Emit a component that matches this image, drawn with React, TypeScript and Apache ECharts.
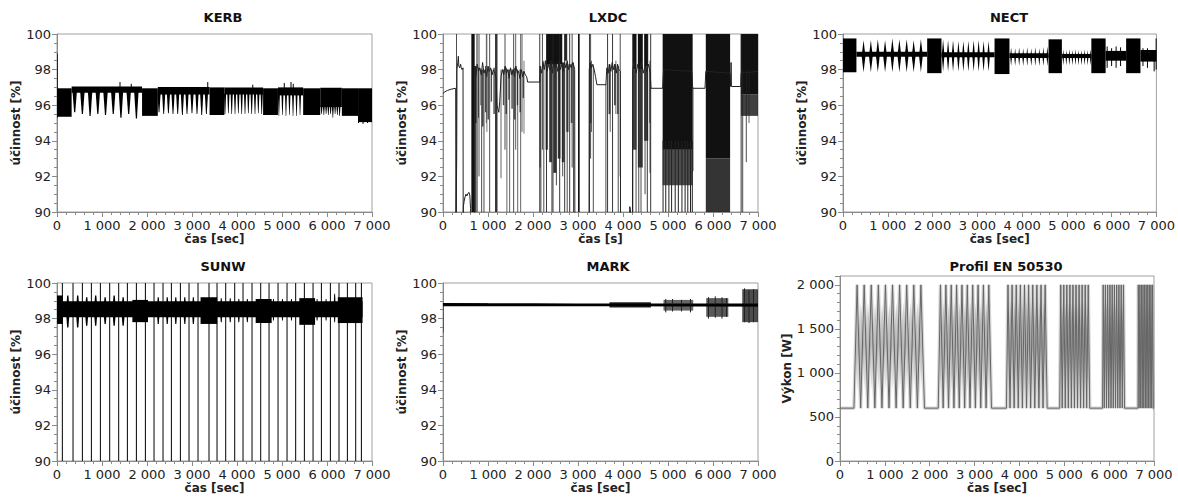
import React, { useEffect, useRef } from "react";
import * as echarts from "echarts";

const FONT = '"DejaVu Sans", Verdana, sans-serif';

// ---------- Profile EN 50530 ----------
const profBottom = 600;
const profTop = 2000;
const profPeaks1 = [386, 544, 702, 860, 1018, 1176, 1334, 1492, 1650, 1808];
const profPeaks2 = [2245, 2365, 2485, 2604, 2724, 2843, 2963, 3083, 3202, 3322];
const profPeaks3 = [3750, 3842, 3934, 4026, 4118, 4210, 4302, 4394, 4486, 4578];
const profPeaks4 = [4926, 4994, 5062, 5130, 5198, 5267, 5335, 5403, 5471, 5539];
const profPeaks5 = [5872, 5922, 5972, 6023, 6073, 6123, 6173, 6223, 6274, 6324];
const profPeaks6 = [6655, 6690, 6725, 6760, 6796, 6831, 6866, 6901, 6937, 6972];
const profRamps = [70, 50, 35, 23, 14, 7];
const profDwell = [10, 10, 10, 10, 10, 10];
const profShade = [0.35, 0.4, 0.5, 0.6, 0.7, 0.8];

// ---------- KERB ----------
const kerbBands = [
  [0, 325, 95.35, 96.95],
  [1890, 2240, 95.4, 96.95],
  [3390, 3720, 95.45, 97.0],
  [4580, 4910, 95.45, 96.95],
  [5470, 5850, 95.45, 96.95],
  [6330, 6690, 95.4, 96.95],
  [6690, 7000, 95.05, 96.95],
];
const kerbTopBands = [
  [325, 1890, 96.7, 97.05],
  [2240, 3390, 96.6, 97.02],
  [3720, 4580, 96.6, 97.0],
  [4910, 5470, 96.55, 97.0],
  [5850, 6330, 95.9, 96.98],
];
const kerbFingers = [
  [393, 50, 96.8, 95.6], [564, 50, 96.8, 95.5], [735, 50, 96.8, 95.4], [907, 50, 96.8, 95.5],
  [1078, 50, 96.8, 95.45], [1250, 50, 96.8, 95.5], [1421, 50, 96.8, 95.3], [1593, 50, 96.8, 95.5],
  [1764, 50, 96.8, 95.25],
  [2267, 35, 96.65, 95.6], [2371, 35, 96.65, 95.5], [2476, 35, 96.65, 95.55], [2578, 35, 96.65, 95.5],
  [2682, 35, 96.65, 95.5], [2786, 35, 96.65, 95.45], [2889, 35, 96.65, 95.5], [3000, 35, 96.65, 95.55],
  [3111, 35, 96.65, 95.5], [3216, 35, 96.65, 95.45], [3320, 35, 96.65, 95.5],
  [3734, 24, 96.65, 95.5], [3808, 24, 96.65, 95.55], [3882, 24, 96.65, 95.5], [3956, 24, 96.65, 95.5],
  [4030, 24, 96.65, 95.55], [4104, 24, 96.65, 95.5], [4178, 24, 96.65, 95.5], [4252, 24, 96.65, 95.55],
  [4326, 24, 96.65, 95.5], [4400, 24, 96.65, 95.5], [4474, 24, 96.65, 95.55], [4549, 24, 96.65, 95.5],
  [4931, 22, 96.6, 95.4], [5010, 22, 96.6, 95.45], [5088, 22, 96.6, 95.4], [5166, 22, 96.6, 95.45],
  [5245, 22, 96.6, 95.4], [5323, 22, 96.6, 95.4], [5401, 22, 96.6, 95.45],
  [5880, 22, 96.0, 95.5], [5930, 22, 96.0, 95.45], [5980, 22, 96.0, 95.5], [6030, 22, 96.0, 95.45],
  [6080, 22, 96.0, 95.5], [6130, 22, 96.0, 95.3], [6180, 22, 96.0, 95.5], [6230, 22, 96.0, 95.45],
  [6280, 22, 96.0, 95.4],
];
const kerbSpikes = [
  [5, 95.3, 98.9], [1400, 96.9, 97.3], [1650, 96.9, 97.2], [3350, 96.9, 97.3],
  [5050, 96.9, 97.25], [5200, 96.9, 97.3], [5250, 96.9, 97.2], [4350, 96.9, 97.15],
  [6700, 95.0, 95.5], [6800, 94.95, 95.5], [6900, 95.0, 95.5], [6980, 95.1, 95.5],
];

// ---------- LXDC ----------
const lxdcTrace = [
  [0, 96.65], [40, 96.75], [100, 96.83], [180, 96.9], [282, 96.95], [286, 89], [298, 89], [304, 92.9],
  [311, 98.0], [328, 98.4], [341, 98.75], [352, 98.2], [372, 98.1], [392, 98.3], [405, 98.1],
  [425, 98.0], [445, 98.1], [449, 89], [452, 90.3], [470, 90.6], [490, 90.85], [510, 91.0],
  [530, 90.9], [555, 91.05], [580, 91.1], [598, 90.9], [612, 90.2], [618, 89], [700, 89],
  [704, 98.2], [730, 97.6], [760, 98.3], [790, 97.9], [820, 98.1], [850, 97.7], [880, 98.4],
  [910, 97.8], [940, 98.0], [970, 97.6], [1000, 98.2], [1030, 97.9], [1060, 98.1], [1090, 97.7],
  [1120, 98.0], [1150, 97.8], [1180, 97.5], [1200, 96.0], [1240, 95.6], [1260, 96.2], [1290, 97.6],
  [1320, 98.0], [1350, 97.7], [1380, 98.2], [1410, 97.8], [1440, 98.0], [1470, 97.5], [1500, 98.1],
  [1530, 97.7], [1560, 98.0], [1590, 97.6], [1620, 98.2], [1650, 97.8], [1680, 97.9], [1710, 97.5],
  [1740, 98.0], [1770, 97.6], [1800, 97.9], [1830, 97.7], [1860, 97.6], [1880, 97.3], [2148, 97.3],
  [2160, 98.2], [2190, 97.8], [2220, 98.4], [2250, 98.0], [2280, 98.5], [2310, 97.9], [2340, 98.3],
  [2370, 98.0], [2400, 98.5], [2430, 97.8], [2460, 98.4], [2490, 98.1], [2520, 98.3], [2550, 97.9],
  [2580, 98.5], [2610, 98.0], [2640, 98.3], [2670, 97.9], [2700, 98.4], [2730, 98.1], [2760, 98.5],
  [2790, 98.0], [2820, 98.3], [2850, 98.1], [2880, 98.4], [2910, 98.2], [2926, 98.0], [2930, 89],
  [3245, 89], [3250, 98.0], [3270, 98.4], [3300, 98.1], [3330, 98.3], [3360, 98.0], [3390, 97.6],
  [3420, 97.15], [3620, 97.15], [3640, 98.1], [3670, 97.8], [3700, 98.3], [3730, 97.9], [3760, 98.4],
  [3790, 98.0], [3820, 98.3], [3850, 97.8], [3880, 98.3], [3910, 98.0], [3940, 97.9], [3946, 89],
  [4140, 89], [4150, 90.3], [4165, 90.15], [4175, 89], [4210, 89], [4215, 98.0], [4250, 98.4],
  [4290, 97.8], [4330, 98.3], [4370, 97.9], [4410, 98.4], [4450, 97.8], [4490, 98.2], [4530, 97.9],
  [4570, 98.3], [4605, 97.8], [4622, 96.95], [4881, 96.95], [4900, 98.0], [5530, 97.9], [5548, 96.95],
  [5822, 96.95], [5840, 97.9], [6380, 97.8], [6392, 97.05], [6402, 98.4], [6410, 97.05],
  [6615, 97.05], [6625, 97.8], [7000, 97.9],
];
const lxdcBars = [
  [630, 704, 90, 100, 1],
  [704, 745, 95.0, 98.2, 0.85], [780, 800, 95.3, 98.1, 0.8], [830, 850, 96.0, 98.0, 0.75],
  [870, 900, 94.8, 98.0, 0.85], [935, 960, 95.6, 98.2, 0.8], [990, 1020, 95.2, 98.1, 0.8],
  [1060, 1090, 96.2, 98.0, 0.75], [1120, 1150, 95.5, 98.1, 0.8], [1330, 1360, 96.0, 98.0, 0.75],
  [1390, 1420, 95.5, 98.1, 0.8], [1450, 1480, 96.3, 98.0, 0.75], [1520, 1550, 95.8, 98.0, 0.8],
  [1580, 1610, 95.2, 98.1, 0.8], [1640, 1670, 96.0, 98.0, 0.75], [1700, 1730, 95.6, 98.0, 0.8],
  [1770, 1800, 96.4, 97.9, 0.7],
  [2148, 2170, 92.5, 98.2, 0.8], [2280, 2330, 93.5, 98.4, 0.85], [2360, 2420, 92.8, 98.4, 0.85],
  [2450, 2520, 92.2, 98.5, 0.85], [2550, 2610, 93.0, 98.4, 0.85], [2640, 2700, 92.8, 98.4, 0.8],
  [2740, 2790, 94.5, 98.3, 0.75], [2840, 2880, 95.0, 98.3, 0.7],
  [2300, 2650, 98.3, 100, 1], [2700, 2760, 98.5, 100, 0.9],
  [3000, 3037, 90, 100, 1], [3270, 3300, 95.0, 98.3, 0.8],
  [3680, 3720, 95.5, 98.3, 0.8], [3800, 3840, 96.0, 98.3, 0.75], [3870, 3900, 95.5, 98.2, 0.8],
  [4215, 4300, 98.0, 100, 1], [4330, 4440, 98.0, 100, 1], [4470, 4560, 98.2, 100, 1],
  [4215, 4300, 93.5, 98.0, 0.8], [4330, 4440, 92.5, 98.0, 0.8], [4470, 4560, 94.0, 98.2, 0.8],
  [4580, 4610, 95.0, 98.0, 0.6],
  [4881, 5548, 93.5, 100, 1], [4881, 5548, 91.5, 93.5, 0.75],
  [5840, 6380, 93.0, 100, 1], [5840, 6380, 90, 93.0, 0.85],
  [6620, 7000, 96.6, 100, 1], [6620, 7000, 95.4, 96.6, 0.8],
];
const lxdcSpikes = [
  [300, 90, 100, 0.8], [726, 90, 98.2, 1], [756, 90, 100, 1], [800, 92, 100, 0.8], [859, 90, 98, 0.8],
  [911, 90, 98, 0.8], [963, 95, 100, 0.6], [975, 94.5, 100, 0.6], [1037, 90, 100, 0.8],
  [1170, 90, 100, 1], [1185, 90, 100, 1], [1200, 90, 100, 0.9], [1289, 91.9, 98, 0.7],
  [1378, 93.5, 100, 0.8], [1420, 90, 98, 0.7], [1481, 90, 98, 0.7], [1570, 90, 100, 0.8],
  [1615, 93.5, 100, 0.7], [1660, 90, 98, 0.7], [1726, 90, 100, 0.7], [1756, 94.5, 100, 0.7],
  [1800, 94.4, 98.5, 0.6],
  [2150, 90, 100, 0.9], [2175, 90, 98, 0.8], [2210, 93.5, 100, 0.8], [2240, 90, 98.5, 0.8],
  [2300, 90, 100, 0.9], [2420, 90, 98.5, 0.8], [2444, 90, 100, 0.9], [2520, 91.5, 98.4, 0.8],
  [2593, 90, 100, 0.9], [2660, 92, 98.4, 0.8], [2704, 90, 100, 0.9], [2760, 90, 98.4, 0.8],
  [2815, 90, 100, 0.9], [2870, 92.5, 100, 0.8], [2900, 90, 98.4, 0.8],
  [3255, 90, 100, 0.9], [3280, 93, 100, 0.8], [3300, 94.5, 98.5, 0.7], [3340, 90, 98.2, 0.8],
  [3620, 90, 97.2, 0.8], [3657, 90, 100, 0.9], [3716, 94.5, 98, 0.7], [3768, 90, 100, 0.9],
  [3842, 95.5, 98.5, 0.7], [3894, 90, 98, 0.8], [3938, 92, 100, 0.8],
  [4218, 90, 100, 0.9], [4290, 90, 98, 0.8], [4350, 90, 98, 0.8], [4400, 90, 98, 0.8],
  [4490, 91, 98, 0.8], [4540, 90, 100, 0.9], [4600, 92.2, 98.5, 0.8], [4615, 90, 100, 0.9],
  [4890, 90, 94, 1], [4950, 90, 94, 1], [5020, 90, 94, 1], [5080, 90, 94, 1], [5160, 90, 94, 1],
  [5230, 90, 94, 1], [5310, 90, 94, 1], [5380, 90, 94, 1], [5440, 90, 94, 1], [5500, 90, 94, 1],
  [5540, 90, 94, 1], [5555, 92.3, 97, 0.8],
  [6625, 90, 100, 0.9], [6660, 90, 98, 0.8], [6740, 92.8, 98, 0.8], [6800, 95, 98, 0.7],
];

// ---------- NECT ----------
const nectBands = [
  [0, 300, 97.85, 99.75],
  [1880, 2200, 97.8, 99.75],
  [3385, 3718, 97.75, 99.75],
  [4591, 4889, 97.8, 99.7],
  [5547, 5866, 97.8, 99.75],
  [6324, 6644, 97.8, 99.75],
];
const nectMidBands = [
  [300, 1880, 98.72, 99.0],
  [2200, 3385, 98.7, 98.98],
  [3718, 4591, 98.65, 98.92],
  [4889, 5547, 98.65, 98.88],
  [5866, 6324, 98.5, 99.05],
  [6644, 7000, 98.45, 99.1],
];
const nectSpindles = [
  [459, 42, 97.85, 99.65], [622, 42, 97.85, 99.65], [778, 42, 97.85, 99.7], [940, 42, 97.85, 99.65],
  [1103, 42, 97.85, 99.75], [1259, 42, 97.85, 99.7], [1422, 42, 97.85, 99.7], [1578, 42, 97.85, 99.65],
  [1740, 42, 97.85, 99.7],
  [2236, 30, 97.9, 99.7], [2347, 30, 97.9, 99.65], [2458, 30, 97.9, 99.65], [2578, 30, 97.9, 99.6],
  [2689, 30, 97.9, 99.6], [2800, 30, 97.9, 99.6], [2918, 30, 97.9, 99.65], [3029, 30, 97.9, 99.65],
  [3140, 30, 97.9, 99.6], [3251, 30, 97.9, 99.6],
  [3755, 20, 98.2, 99.25], [3845, 20, 98.2, 99.2], [3935, 20, 98.2, 99.25], [4025, 20, 98.2, 99.2],
  [4115, 20, 98.2, 99.25], [4205, 20, 98.2, 99.2], [4295, 20, 98.2, 99.25], [4385, 20, 98.2, 99.2],
  [4475, 20, 98.2, 99.25], [4565, 20, 98.2, 99.3],
  [4920, 17, 98.25, 99.15], [4988, 17, 98.25, 99.1], [5056, 17, 98.25, 99.15], [5124, 17, 98.25, 99.1],
  [5192, 17, 98.25, 99.15], [5260, 17, 98.25, 99.1], [5328, 17, 98.25, 99.1], [5396, 17, 98.25, 99.15],
  [5464, 17, 98.25, 99.1], [5532, 17, 98.25, 99.15],
];
const nectSpikes = [
  [5900, 98.1, 99.3], [6000, 98.2, 99.2], [6100, 98.1, 99.3], [6200, 98.2, 99.25],
  [6700, 98.2, 99.2], [6800, 98.1, 99.2], [6950, 97.9, 99.1], [6995, 98.0, 99.75],
];

// ---------- SUNW ----------
const sunwBands = [
  [0, 6790, 98.08, 98.97],
  [0, 130, 97.7, 99.3],
  [1675, 2022, 97.8, 99.05],
  [3190, 3560, 97.7, 99.2],
  [4415, 4770, 97.75, 99.1],
  [5385, 5735, 97.65, 99.15],
  [6240, 6790, 97.75, 99.2],
];
const sunwSpikes = [
  119, 356, 564, 764, 964, 1171, 1371, 1564, 1764, 1964, 2156, 2356, 2542, 2742, 2934, 3134,
  3378, 3556, 3749, 3949, 4134, 4334, 4527, 4712, 4912, 5112, 5304, 5497, 5690, 5875, 6075,
  6267, 6453, 6638, 6764,
];
const sunwSpindles = [
  [240, 40, 97.5, 99.3], [460, 40, 97.5, 99.3], [660, 40, 97.6, 99.2], [860, 40, 97.6, 99.3],
  [1070, 40, 97.7, 99.2], [1270, 40, 97.6, 99.3], [1470, 40, 97.6, 99.2],
  [2250, 34, 97.7, 99.2], [2450, 34, 97.7, 99.2], [2640, 34, 97.7, 99.2], [2840, 34, 97.7, 99.2],
  [3030, 34, 97.7, 99.2], [3650, 30, 97.8, 99.15], [3850, 30, 97.8, 99.15], [4040, 30, 97.8, 99.1],
  [4230, 30, 97.8, 99.1], [4810, 26, 97.9, 99.1], [5010, 26, 97.9, 99.1], [5210, 26, 97.9, 99.1],
  [5780, 26, 97.9, 99.1], [5980, 26, 97.9, 99.1], [6170, 26, 97.8, 99.4],
];

// ---------- MARK ----------
const markTrace = [[0, 98.82], [1000, 98.8], [2000, 98.79], [3000, 98.77], [4000, 98.76], [5000, 98.75], [7000, 98.74]];
const markBands = [
  [0, 7000, 98.7, 98.85, 1],
  [3700, 4620, 98.62, 98.92, 0.85],
  [4900, 5560, 98.45, 99.05, 0.6],
  [5850, 6340, 98.1, 99.15, 0.65],
  [6650, 7000, 97.8, 99.65, 0.7],
];
const markSpikes = [
  [0, 97.2, 98.85], [4950, 98.35, 99.1], [5100, 98.4, 99.1], [5300, 98.4, 99.05], [5500, 98.35, 99.1],
  [5900, 98.0, 99.2], [6050, 98.05, 99.25], [6200, 98.0, 99.2], [6300, 98.1, 99.15],
  [6700, 97.8, 99.7], [6800, 97.75, 99.6], [6900, 97.8, 99.65],
];

// ---------- helpers ----------
function fmt(v: number) {
  if (v >= 1000) {
    const k = Math.floor(v / 1000);
    const r = v % 1000;
    return k + " " + String(r).padStart(3, "0");
  }
  return String(v);
}

const grids = [
  { left: 57, top: 34, width: 315, height: 178 },
  { left: 443, top: 34, width: 315, height: 178 },
  { left: 843, top: 34, width: 315, height: 178 },
  { left: 57, top: 283, width: 315, height: 178 },
  { left: 443, top: 283, width: 315, height: 178 },
  { left: 840, top: 276, width: 314, height: 185 },
];

const axisColor = "#8a8a8a";
const labelColor = "#222";

function xAxis(i: number, name: string) {
  return {
    type: "value", gridIndex: i, min: 0, max: 7000, interval: 1000,
    axisLine: { show: true, lineStyle: { color: axisColor } },
    axisTick: { show: true, length: 5, lineStyle: { color: axisColor } },
    minorTick: { show: true, splitNumber: 5, length: 3, lineStyle: { color: axisColor } },
    splitLine: { show: false },
    axisLabel: { color: labelColor, fontFamily: FONT, fontSize: 13, margin: 7, formatter: fmt },
    name, nameLocation: "middle", nameGap: 20,
    nameTextStyle: { color: labelColor, fontFamily: FONT, fontSize: 12, fontWeight: "bold" },
  };
}
function yAxis(i: number, name: string, min: number, max: number, interval: number, minorSplit: number, gap: number) {
  return {
    type: "value", gridIndex: i, min, max, interval,
    axisLine: { show: true, lineStyle: { color: axisColor } },
    axisTick: { show: true, length: 5, lineStyle: { color: axisColor } },
    minorTick: { show: true, splitNumber: minorSplit, length: 3, lineStyle: { color: axisColor } },
    splitLine: { show: false },
    axisLabel: {
      color: labelColor, fontFamily: FONT, fontSize: 13, margin: 6,
      formatter: (v: number) => (v > 2000 && max > 2000 ? "" : fmt(v)),
    },
    name, nameLocation: "middle", nameGap: gap,
    nameTextStyle: { color: labelColor, fontFamily: FONT, fontSize: 12, fontWeight: "bold" },
  };
}

function rectSeries(gi: number, data: number[][], color: string) {
  return {
    type: "custom", xAxisIndex: gi, yAxisIndex: gi, clip: true, silent: true, data,
    renderItem: (p: any, api: any) => {
      const a = api.coord([api.value(0), api.value(3)]);
      const b = api.coord([api.value(1), api.value(2)]);
      const op = data[p.dataIndex][4];
      return {
        type: "rect",
        shape: { x: a[0], y: a[1], width: b[0] - a[0], height: b[1] - a[1] },
        style: { fill: color, opacity: op === undefined ? 1 : op },
      };
    },
  };
}
function wedgeSeries(gi: number, data: number[][], color: string) {
  return {
    type: "custom", xAxisIndex: gi, yAxisIndex: gi, clip: true, silent: true, data,
    renderItem: (p: any, api: any) => {
      const t = api.value(0), hw = api.value(1), top = api.value(2), bot = api.value(3);
      return {
        type: "polygon",
        shape: { points: [api.coord([t - hw, top]), api.coord([t + hw, top]), api.coord([t + hw * 0.25, bot]), api.coord([t - hw * 0.25, bot])] },
        style: { fill: color },
      };
    },
  };
}
function diamondSeries(gi: number, data: number[][], color: string) {
  return {
    type: "custom", xAxisIndex: gi, yAxisIndex: gi, clip: true, silent: true, data,
    renderItem: (p: any, api: any) => {
      const item = data[p.dataIndex];
      const t = item[0], hw = item[1], lo = item[2], hi = item[3];
      const mid = (lo + hi) / 2;
      const op = item[4];
      return {
        type: "polygon",
        shape: { points: [api.coord([t, hi]), api.coord([t + hw, mid]), api.coord([t, lo]), api.coord([t - hw, mid])] },
        style: { fill: color, opacity: op === undefined ? 1 : op },
      };
    },
  };
}
function hexSeries(gi: number, data: number[][], color: string) {
  return {
    type: "custom", xAxisIndex: gi, yAxisIndex: gi, clip: true, silent: true, data,
    renderItem: (p: any, api: any) => {
      const item = data[p.dataIndex];
      const t = item[0], hw = item[1], lo = item[2], hi = item[3];
      const mid = (lo + hi) / 2;
      const n = hw * 0.35;
      return {
        type: "polygon",
        shape: {
          points: [
            api.coord([t - n, hi]), api.coord([t + n, hi]), api.coord([t + hw, mid]),
            api.coord([t + n, lo]), api.coord([t - n, lo]), api.coord([t - hw, mid]),
          ],
        },
        style: { fill: color },
      };
    },
  };
}
function spikeSeries(gi: number, data: number[][], color: string, w: number) {
  return {
    type: "custom", xAxisIndex: gi, yAxisIndex: gi, clip: true, silent: true, data,
    renderItem: (p: any, api: any) => {
      const a = api.coord([api.value(0), api.value(1)]);
      const b = api.coord([api.value(0), api.value(2)]);
      const op = data[p.dataIndex][3];
      return {
        type: "line", shape: { x1: a[0], y1: a[1], x2: b[0], y2: b[1] },
        style: { stroke: color, lineWidth: w, opacity: op === undefined ? 1 : op },
      };
    },
  };
}
function lineSeries(gi: number, data: number[][], color: string, w: number, opacity = 1) {
  return {
    type: "line", xAxisIndex: gi, yAxisIndex: gi, data, showSymbol: false, symbol: "none",
    clip: true, silent: true, lineStyle: { color, width: w, opacity },
  };
}

function buildProfile() {
  const blocks = [profPeaks1, profPeaks2, profPeaks3, profPeaks4, profPeaks5, profPeaks6];
  const pts: number[][] = [[0, profBottom]];
  const lenses: number[][] = [];
  blocks.forEach((peaks, bi) => {
    const r = profRamps[bi];
    const d = profDwell[bi] / 2;
    peaks.forEach((p, k) => {
      pts.push([p - d - r, profBottom], [p - d, profTop], [p + d, profTop], [p + d + r, profBottom]);
      if (k > 0) {
        const prev = peaks[k - 1];
        lenses.push([(p + prev) / 2, (p - prev) * 0.4, 850, 1800, profShade[bi]]);
      }
      lenses.push([p, r * 0.6, 800, 1750, profShade[bi] * 0.8]);
    });
  });
  pts.push([7000, profBottom]);
  return { pts, lenses };
}

const titles = [
  { text: "KERB", x: 223, y: 17 },
  { text: "LXDC", x: 608, y: 17 },
  { text: "NECT", x: 1009, y: 17 },
  { text: "SUNW", x: 223, y: 266 },
  { text: "MARK", x: 608, y: 266 },
  { text: "Profil EN 50530", x: 1006, y: 266 },
];

export default function App() {
  const ref = useRef<HTMLDivElement>(null);
  useEffect(() => {
    if (!ref.current) return;
    const chart = echarts.init(ref.current, undefined, { renderer: "svg" });
    const sunwSpikeData = sunwSpikes.map((t) => [t, 89, 101]);
    const prof = buildProfile();
    const option: any = {
      animation: false,
      backgroundColor: "#fff",
      grid: grids.map((g) => ({ ...g, show: true, borderColor: "#a0a0a0", borderWidth: 1, backgroundColor: "transparent" })),
      xAxis: [
        xAxis(0, "čas [sec]"), xAxis(1, "čas [s]"), xAxis(2, "čas [sec]"),
        xAxis(3, "čas [sec]"), xAxis(4, "čas [sec]"), xAxis(5, "čas [sec]"),
      ],
      yAxis: [
        yAxis(0, "účinnost [%]", 90, 100, 2, 4, 31),
        yAxis(1, "účinnost [%]", 90, 100, 2, 4, 31),
        yAxis(2, "účinnost [%]", 90, 100, 2, 4, 31),
        yAxis(3, "účinnost [%]", 90, 100, 2, 4, 31),
        yAxis(4, "účinnost [%]", 90, 100, 2, 4, 31),
        yAxis(5, "Výkon [W]", 0, 2100, 500, 5, 44),
      ],
      graphic: titles.map((t) => ({
        type: "text", x: t.x, y: t.y, silent: true,
        style: { text: t.text, fill: "#111", font: `bold 13px ${FONT}`, textAlign: "center", textVerticalAlign: "middle" },
      })),
      series: [
        // KERB
        rectSeries(0, kerbBands, "#000"),
        rectSeries(0, kerbTopBands, "#000"),
        wedgeSeries(0, kerbFingers, "#000"),
        spikeSeries(0, kerbSpikes, "#000", 1),
        // LXDC
        rectSeries(1, lxdcBars, "#111"),
        spikeSeries(1, lxdcSpikes, "#222", 1),
        lineSeries(1, lxdcTrace, "#222", 1),
        // NECT
        rectSeries(2, nectBands, "#000"),
        rectSeries(2, nectMidBands, "#000"),
        diamondSeries(2, nectSpindles, "#000"),
        spikeSeries(2, nectSpikes, "#000", 1),
        // SUNW
        rectSeries(3, sunwBands, "#000"),
        hexSeries(3, sunwSpindles, "#000"),
        spikeSeries(3, sunwSpikeData, "#000", 1),
        // MARK
        rectSeries(4, markBands, "#000"),
        spikeSeries(4, markSpikes, "#222", 1),
        lineSeries(4, markTrace, "#000", 2),
        // Profile
        diamondSeries(5, prof.lenses, "#7a7a7a"),
        lineSeries(5, prof.pts, "#8a8a8a", 3.5, 0.35),
        lineSeries(5, prof.pts, "#666", 1),
      ],
    };
    chart.setOption(option);
    return () => chart.dispose();
  }, []);
  return <div ref={ref} style={{ position: "absolute", left: 0, top: 0, width: 1178, height: 502 }} />;
}
